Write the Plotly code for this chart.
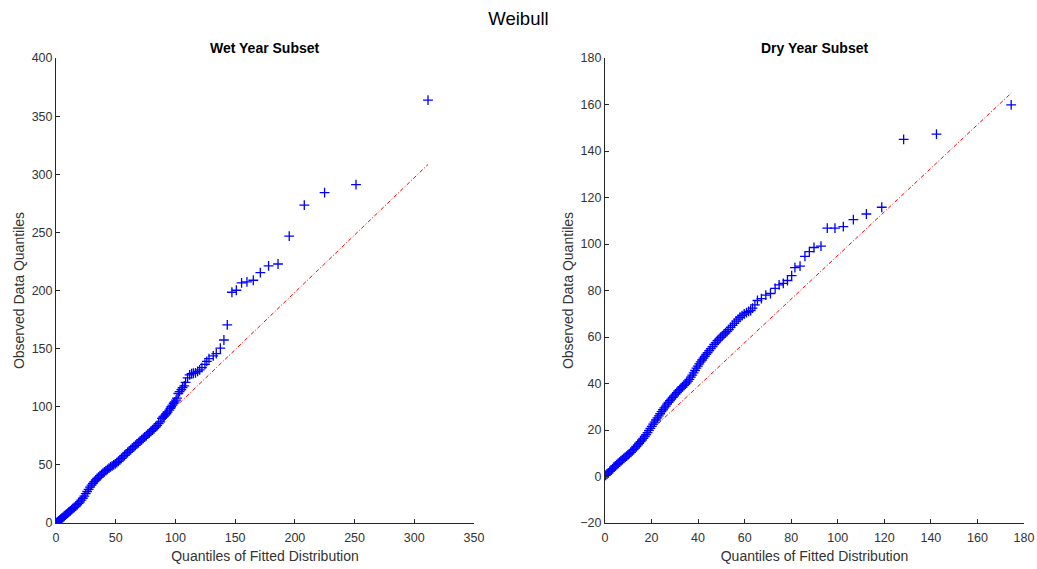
import plotly.graph_objects as go
from plotly.subplots import make_subplots

# ---------------- data ----------------
wet_theoretical = [
    0.2, 0.8, 1.5, 2.3, 3.1, 4.0, 4.9, 5.8, 6.8, 7.8, 8.8, 9.8, 10.9, 12.0, 13.1, 14.2,
    15.3, 16.5, 17.7, 18.9, 20.1, 21.3, 22.5, 23.7, 24.9, 26.1, 27.3, 28.5, 29.7, 30.9,
    32.1, 33.3, 34.5, 35.7, 36.9, 38.1, 39.3, 40.5, 41.8, 43.1, 44.4, 45.7, 47.0, 48.3,
    49.6, 50.9, 52.2, 53.5, 54.8, 56.1, 57.4, 58.7, 60.0, 61.3, 62.6, 63.9, 65.2, 66.5,
    67.8, 69.1, 70.4, 71.7, 73.0, 74.3, 75.6, 76.9, 78.2, 79.5, 80.8, 82.1, 83.4, 84.7,
    86.0, 87.3, 88.7, 89.8, 90.6, 91.5, 92.4, 93.4, 94.9, 95.8, 96.5, 97.4, 98.5, 99.4,
    100.5, 101.3, 102.4, 103.5, 104.9, 106.0, 107.4, 108.5, 110.2, 111.9, 113.5, 115.0,
    116.8, 118.6, 120.3, 122.2, 124.7, 126.3, 128.1, 131.7, 134.2, 137.6, 140.6, 143.4,
    147.3, 151.0, 155.4, 159.9, 165.2, 171.1, 178.0, 185.9, 195.3, 207.9, 224.9, 251.2,
    311.5,
]
wet_observed = [
    0.1, 0.5, 1.1, 1.8, 2.5, 3.3, 4.1, 4.9, 5.8, 6.7, 7.6, 8.5, 9.5, 10.5, 11.5, 12.5,
    13.5, 14.6, 15.7, 16.9, 18.2, 19.6, 21.3, 23.2, 25.2, 27.1, 29.0, 30.8, 32.5, 34.1,
    35.6, 37.0, 38.3, 39.5, 40.7, 41.8, 42.9, 44.0, 45.1, 46.2, 47.2, 48.2, 49.1, 50.0,
    50.9, 51.9, 53.0, 54.3, 55.6, 56.9, 58.2, 59.5, 60.8, 62.0, 63.2, 64.4, 65.6, 66.8,
    68.0, 69.2, 70.4, 71.6, 72.8, 74.0, 75.2, 76.4, 77.6, 78.8, 80.0, 81.3, 82.6, 84.0,
    85.5, 87.0, 90.0, 91.2, 92.0, 92.8, 94.0, 95.5, 97.1, 98.6, 100.0, 101.4, 103.0, 104.2,
    105.7, 107.5, 111.4, 113.0, 114.8, 116.5, 118.0, 121.0, 124.8, 127.4, 128.5, 128.8,
    129.2, 130.5, 131.8, 133.7, 136.5, 139.0, 141.4, 143.7, 145.7, 150.5, 157.4, 170.5,
    198.5, 200.2, 206.5, 207.4, 208.8, 215.4, 221.1, 222.8, 246.8, 273.4, 284.2, 291.1,
    363.7,
]
wet_fit_x = [0.2, 311.5]
wet_fit_y = [1.3, 308.4]

dry_theoretical = [
    0.3, 0.9, 1.5, 2.1, 2.7, 3.3, 3.9, 4.5, 5.1, 5.7, 6.3, 6.9, 7.5, 8.1, 8.7, 9.3, 9.9,
    10.5, 11.1, 11.7, 12.3, 12.9, 13.5, 14.1, 14.7, 15.3, 15.9, 16.5, 17.1, 17.7, 18.3,
    18.9, 19.5, 20.1, 20.7, 21.3, 21.9, 22.5, 23.1, 23.7, 24.3, 24.9, 25.5, 26.1, 26.7,
    27.3, 27.9, 28.5, 29.1, 29.7, 30.3, 30.9, 31.5, 32.1, 32.7, 33.3, 33.9, 34.5, 35.1,
    35.7, 36.3, 36.9, 37.5, 38.1, 38.7, 39.3, 39.9, 40.5, 41.1, 41.7, 42.3, 42.9, 43.5,
    44.1, 44.8, 45.5, 46.2, 46.9, 47.6, 48.3, 49.0, 49.7, 50.4, 51.1, 51.8, 52.5, 53.2,
    54.0, 54.8, 55.6, 56.4, 57.2, 58.0, 58.9, 59.8, 60.8, 61.7, 62.6, 63.4, 64.4, 65.5,
    67.2, 69.1, 71.1, 73.1, 74.8, 76.6, 78.4, 80.2, 81.6, 83.8, 85.9, 87.8, 89.8, 92.8,
    95.5, 98.8, 102.4, 106.7, 112.3, 118.9, 128.3, 142.4, 174.5,
]
dry_observed = [
    0.5, 1.0, 1.6, 2.2, 2.8, 3.4, 4.0, 4.6, 5.1, 5.7, 6.2, 6.8, 7.3, 7.8, 8.3, 8.8, 9.3,
    9.8, 10.4, 11.0, 11.6, 12.2, 12.9, 13.6, 14.3, 15.0, 15.7, 16.4, 17.2, 18.0, 18.9,
    19.8, 20.7, 21.6, 22.5, 23.4, 24.3, 25.2, 26.1, 27.0, 27.9, 28.7, 29.5, 30.3, 31.1,
    31.9, 32.6, 33.3, 34.0, 34.7, 35.4, 36.1, 36.8, 37.4, 38.0, 38.6, 39.2, 39.7, 40.3,
    41.0, 41.8, 42.7, 43.6, 44.6, 45.6, 46.6, 47.5, 48.4, 49.3, 50.1, 50.9, 51.7, 52.5,
    53.3, 54.1, 55.0, 55.9, 56.8, 57.6, 58.4, 59.1, 59.8, 60.5, 61.2, 61.8, 62.4, 63.2,
    64.1, 65.0, 65.9, 66.8, 67.7, 68.5, 69.2, 69.9, 70.5, 71.0, 71.4, 72.4, 73.8, 75.7,
    76.5, 78.0, 78.7, 80.9, 82.4, 83.1, 84.3, 86.4, 89.8, 90.5, 94.7, 96.7, 98.5, 99.1,
    106.8, 106.8, 107.5, 110.5, 112.9, 115.8, 145.0, 147.3, 159.8,
]
dry_fit_x = [0.3, 174.5]
dry_fit_y = [1.6, 164.9]

# ---------------- figure ----------------
W, H = 1037, 569
ML, MR, MT, MB = 56, 13, 58, 46
fig = make_subplots(rows=1, cols=2, horizontal_spacing=0.1353)

FONT = "Liberation Sans, Arial, sans-serif"
marker = dict(symbol="cross-thin", size=7, color="#0000ff",
              line=dict(color="#0000ff", width=1.3))
fitline = dict(color="#ff0000", width=1, dash="4px,2px,1px,2px")

fig.add_trace(go.Scatter(x=wet_fit_x, y=wet_fit_y, mode="lines", line=fitline,
                         showlegend=False, hoverinfo="skip"), row=1, col=1)
fig.add_trace(go.Scatter(x=wet_theoretical, y=wet_observed, mode="markers",
                         marker=marker, showlegend=False), row=1, col=1)
fig.add_trace(go.Scatter(x=dry_fit_x, y=dry_fit_y, mode="lines", line=fitline,
                         showlegend=False, hoverinfo="skip"), row=1, col=2)
fig.add_trace(go.Scatter(x=dry_theoretical, y=dry_observed, mode="markers",
                         marker=marker, showlegend=False), row=1, col=2)

axis_common = dict(
    showline=True, linecolor="#262626", linewidth=1, mirror=False,
    showgrid=False, zeroline=False, ticks="inside", ticklen=4,
    tickcolor="#262626", tickwidth=1, automargin=False,
    tickfont=dict(family=FONT, size=12.5, color="#333333"),
    title_font=dict(family=FONT, size=14, color="#333333"),
)

fig.update_xaxes(axis_common)
fig.update_yaxes(axis_common)
fig.update_xaxes(ticklabelstandoff=3)

fig.update_xaxes(range=[0, 350], dtick=50, tick0=0, domain=[0, 0.4318],
                 title_text="Quantiles of Fitted Distribution", title_standoff=7,
                 row=1, col=1)
fig.update_yaxes(range=[0, 400], dtick=50, tick0=0,
                 title_text="Observed Data Quantiles", title_standoff=3,
                 row=1, col=1)
fig.update_xaxes(range=[0, 180], dtick=20, tick0=0, domain=[0.5671, 1.0],
                 title_text="Quantiles of Fitted Distribution", title_standoff=7,
                 row=1, col=2)
fig.update_yaxes(range=[-20, 180], dtick=20, tick0=0,
                 title_text="Observed Data Quantiles", title_standoff=3,
                 row=1, col=2)

ph = H - MT - MB
fig.update_layout(
    width=W, height=H,
    margin=dict(l=ML, r=MR, t=MT, b=MB, autoexpand=False),
    paper_bgcolor="white", plot_bgcolor="white",
    font=dict(family=FONT, color="#262626"),
    title=dict(text="Weibull", x=0.5, xanchor="center", y=1 - 19 / H, yanchor="middle",
               font=dict(family=FONT, size=18.5, color="#000000")),
    annotations=[
        dict(text="<b>Wet Year Subset</b>", xref="paper", yref="paper",
             x=0.4318 / 2, y=1 + (MT - 48) / ph, xanchor="center", yanchor="middle",
             showarrow=False, font=dict(family=FONT, size=14, color="#000000")),
        dict(text="<b>Dry Year Subset</b>", xref="paper", yref="paper",
             x=(0.5671 + 1.0) / 2, y=1 + (MT - 48) / ph, xanchor="center",
             yanchor="middle", showarrow=False,
             font=dict(family=FONT, size=14, color="#000000")),
    ],
)

fig.write_html("out.html")
